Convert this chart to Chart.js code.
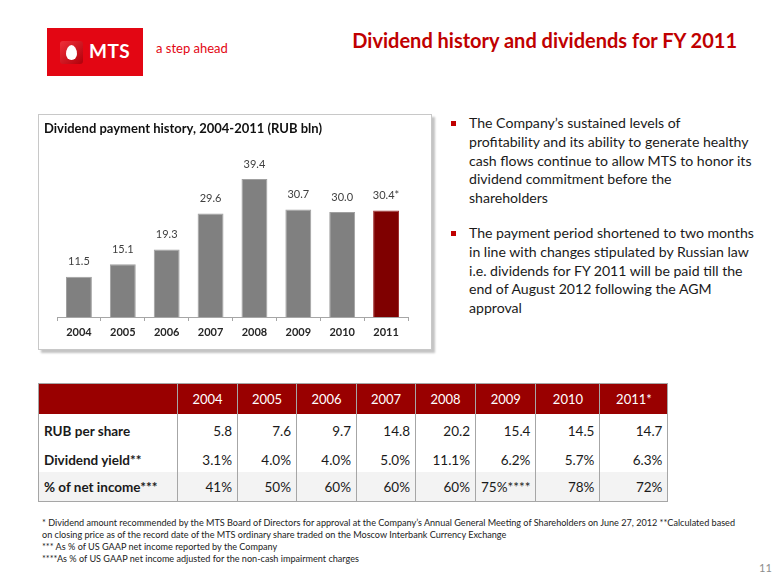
<!DOCTYPE html>
<html>
<head>
<meta charset="utf-8">
<script src="https://cdn.jsdelivr.net/npm/chart.js@4.4.0/dist/chart.umd.min.js"></script>
<style>
  html, body { margin: 0; padding: 0; background: #fff; }
  body { width: 780px; height: 585px; position: relative; overflow: hidden; font-family: Lato, "Open Sans", sans-serif; color: #1a1a1a; }
  .abs { position: absolute; }
  #logo { left: 47px; top: 28px; width: 96px; height: 48px; background: #e30613; }
  #egg-box { left: 13px; top: 13px; width: 23px; height: 23px; border-radius: 3px; background: linear-gradient(135deg, #f0303a, #b0000a); }
  #egg { left: 6px; top: 4px; width: 11px; height: 15px; border-radius: 50% 50% 50% 50% / 60% 60% 40% 40%; background: #fff; }
  #logo-text { left: 42px; top: 11px; color: #fff; font: bold 19px Lato, sans-serif; letter-spacing: 0.5px; }
  #tagline { left: 156px; top: 40px; color: #e30613; font-size: 13px; }
  #slide-title { right: 43px; top: 28px; color: #c00000; font-weight: bold; font-size: 20px; white-space: nowrap; }
  #chart-box { left: 38px; top: 114px; width: 392px; height: 234px; border: 1px solid #c8c8c8; box-shadow: 3px 3px 2px #c4c4c4; }
  #chart-title { left: 44px; top: 120px; font-weight: bold; font-size: 13px; color: #111; white-space: nowrap; }
  #chart-wrap { left: 39px; top: 115px; width: 392px; height: 234px; }
  .bullets { left: 451px; top: 114px; font-size: 14.1px; line-height: 18.8px; color: #1a1a1a; white-space: nowrap; }
  .bullets p { margin: 0 0 16px 0; padding-left: 18px; position: relative; }
  .bullets p::before { content: ""; position: absolute; left: 0; top: 7px; width: 5px; height: 5px; background: #c00000; }
  #data-table { left: 38px; top: 383px; border-collapse: collapse; font-size: 13.5px; table-layout: fixed; }
  #data-table td, #data-table th { border-left: 1px solid #a6a6a6; border-right: 1px solid #a6a6a6; padding: 0 5px; white-space: nowrap; }
  #data-table { border: 1px solid #a6a6a6; }
  #data-table th { background: #990000; color: #fff; font-weight: normal; text-align: center; height: 30px; font-size: 13px; }
  #data-table td { text-align: right; }
  #data-table td.rowhead { text-align: left; font-weight: bold; }
  #data-table tr.r1 td { height: 33px; }
  #data-table tr.r2 td { height: 25px; }
  #data-table tr.r3 td { height: 29px; background: #f3f3f3; }
  #notes { left: 42px; top: 517px; font-size: 9.1px; line-height: 12px; color: #222; white-space: nowrap; }
  #page-no { left: 759px; top: 561px; font-size: 11px; color: #8c8c8c; }
</style>
</head>
<body>

<div id="logo" class="abs">
  <div id="egg-box" class="abs"><div id="egg" class="abs"></div></div>
  <div id="logo-text" class="abs">MTS</div>
</div>
<div id="tagline" class="abs">a step ahead</div>
<div id="slide-title" class="abs">Dividend history and dividends for FY 2011</div>

<div id="chart-box" class="abs"></div>
<div id="chart-wrap" class="abs"><canvas id="dividendChart"></canvas></div>
<div id="chart-title" class="abs">Dividend payment history, 2004-2011 (RUB bln)</div>

<div class="bullets abs">
  <p>The Company’s sustained levels of<br>profitability and its ability to generate healthy<br>cash flows continue to allow MTS to honor its<br>dividend commitment before the<br>shareholders</p>
  <p>The payment period shortened to two months<br>in line with changes stipulated by Russian law<br>i.e. dividends for FY 2011 will be paid till the<br>end of August 2012 following the AGM<br>approval</p>
</div>

<table id="data-table" class="abs"></table>

<div id="notes" class="abs">
  * Dividend amount recommended by the MTS Board of Directors for approval at the Company’s Annual General Meeting of Shareholders on June 27, 2012 **Calculated based<br>
  on closing price as of the record date of the MTS ordinary share traded on the Moscow Interbank Currency Exchange<br>
  *** As % of US GAAP net income reported by the Company<br>
  ****As % of US GAAP net income adjusted for the non-cash impairment charges
</div>
<div id="page-no" class="abs">11</div>

<script>
// chart data
const years = ["2004", "2005", "2006", "2007", "2008", "2009", "2010", "2011"];
const dividendsRubBln = [11.5, 15.1, 19.3, 29.6, 39.4, 30.7, 30.0, 30.4];
const labelMarks = ["", "", "", "", "", "", "", "*"];

// table data
const tableYears = ["2004", "2005", "2006", "2007", "2008", "2009", "2010", "2011*"];
const rubPerShare = ["5.8", "7.6", "9.7", "14.8", "20.2", "15.4", "14.5", "14.7"];
const dividendYield = ["3.1%", "4.0%", "4.0%", "5.0%", "11.1%", "6.2%", "5.7%", "6.3%"];
const netIncomeShare = ["41%", "50%", "60%", "60%", "60%", "75%****", "78%", "72%"];

/* ================= TABLE ================= */
const colWidths = [139, 60, 59, 60, 59, 60, 59, 64, 68];
const table = document.getElementById("data-table");
let html = "<colgroup>" + colWidths.map(w => '<col style="width:' + w + 'px">').join("") + "</colgroup>";
html += "<tr><th></th>" + tableYears.map(y => "<th>" + y + "</th>").join("") + "</tr>";
const rows = [
    ["RUB per share", rubPerShare, "r1"],
    ["Dividend yield**", dividendYield, "r2"],
    ["% of net income***", netIncomeShare, "r3"]
];
rows.forEach(function (r) {
    html += '<tr class="' + r[2] + '"><td class="rowhead">' + r[0] + "</td>" +
        r[1].map(v => "<td>" + v + "</td>").join("") + "</tr>";
});
table.innerHTML = html;

/* ================= BAR CHART ================= */
const valueLabels = {
    id: "valueLabels",
    afterDatasetsDraw: function (chart) {
        const ctx = chart.ctx;
        const meta = chart.getDatasetMeta(0);
        ctx.save();
        ctx.font = "11px Lato";
        ctx.fillStyle = "#404040";
        ctx.textAlign = "center";
        ctx.textBaseline = "middle";
        meta.data.forEach(function (bar, i) {
            ctx.fillText(dividendsRubBln[i].toFixed(1) + labelMarks[i], bar.x, bar.y - 15);
        });
        ctx.restore();
    }
};

const barColors = dividendsRubBln.map((v, i) => i === dividendsRubBln.length - 1 ? "#7f0000" : "#808080");
const barBorders = dividendsRubBln.map((v, i) => i === dividendsRubBln.length - 1 ? "#a03030" : "#a0a0a0");

new Chart(document.getElementById("dividendChart"), {
    type: "bar",
    data: {
        labels: years,
        datasets: [{
            data: dividendsRubBln,
            backgroundColor: barColors,
            borderColor: barBorders,
            borderWidth: 1,
            categoryPercentage: 1,
            barPercentage: 0.59
        }]
    },
    options: {
        responsive: true,
        maintainAspectRatio: false,
        animation: false,
        layout: { padding: { top: 44.5, bottom: 2, left: 18, right: 23 } },
        plugins: {
            legend: { display: false },
            tooltip: { enabled: false }
        },
        scales: {
            x: {
                afterFit: function (scale) { scale.height = 30; },
                border: { color: "#a6a6a6" },
                grid: { offset: true, drawOnChartArea: false, drawTicks: true, tickLength: 4, color: "#a6a6a6" },
                ticks: { color: "#262626", padding: 5, font: { family: "Lato", size: 11, weight: "bold" } }
            },
            y: {
                display: false,
                min: 0,
                max: 45
            }
        }
    },
    plugins: [valueLabels]
});
</script>
</body>
</html>
